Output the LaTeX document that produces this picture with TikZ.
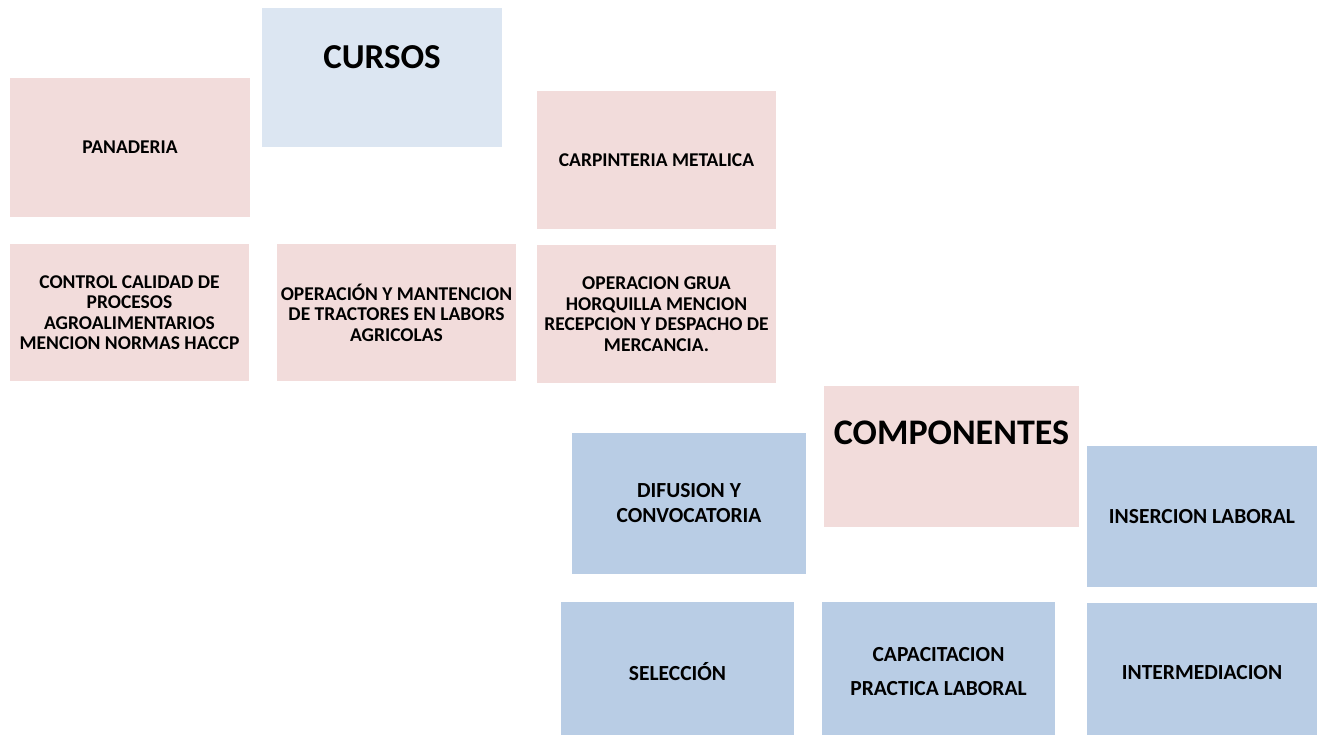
\documentclass[tikz,border=0pt]{standalone}
\usepackage{fontspec}
\setmainfont{Carlito}
\definecolor{pinkf}{HTML}{F2DCDB}
\definecolor{lblue}{HTML}{DCE6F2}
\definecolor{mblue}{HTML}{B9CDE5}
\begin{document}
\begin{tikzpicture}[x=1pt,y=-1pt,
  box/.style={rectangle, inner sep=0pt, draw=none, align=center, font=\bfseries\fontsize{19.5}{20.5}\selectfont, text=black},
  pinkbox/.style={box, fill=pinkf},
  lbluebox/.style={box, fill=lblue},
  bluebox/.style={box, fill=mblue, font=\bfseries\fontsize{21.5}{25}\selectfont},
  big/.style={inner sep=0pt, font=\bfseries\fontsize{35}{40}\selectfont, text=black},
  sz/.style 2 args={minimum width=#1pt, minimum height=#2pt}]
\useasboundingbox (0,0) rectangle (1317,735);
\fill[white] (0,0) rectangle (1317,735);
% CURSOS group
\node[lbluebox, sz={240}{139}] (cursos) at (382,77.5) {};
\node[big] (cursosT) at (382,57) {CURSOS};
\node[pinkbox, sz={240}{139}] (pan) at (130,147.5) {PANADERIA};
\node[pinkbox, sz={239}{138}] (carp) at (656.5,160) {CARPINTERIA METALICA};
\node[pinkbox, sz={239}{137}] (ctrl) at (129.5,312.5) {CONTROL CALIDAD DE\\PROCESOS\\AGROALIMENTARIOS\\MENCION NORMAS HACCP};
\node[pinkbox, sz={239}{137}] (oper) at (396.5,312.5) {OPERACIÓN Y MANTENCION\\DE TRACTORES EN LABORS\\AGRICOLAS};
\node[pinkbox, sz={239}{138}] (grua) at (656.5,314) {OPERACION GRUA\\HORQUILLA MENCION\\RECEPCION Y DESPACHO DE\\MERCANCIA.};
% COMPONENTES group
\node[pinkbox, sz={255}{141}] (comp) at (951.5,456.5) {};
\node[big, font=\bfseries\fontsize{36}{40}\selectfont] (compT) at (951.5,433) {COMPONENTES};
\node[bluebox, sz={234}{141}] (dif) at (689,503.5) {DIFUSION Y\\CONVOCATORIA};
\node[bluebox, sz={230}{141}] (ins) at (1202,516.5) {INSERCION LABORAL};
\node[bluebox, sz={233}{140}] (sel) at (677.5,672) {SELECCIÓN};
\node[bluebox, sz={233}{140}, font=\bfseries\fontsize{21.5}{34}\selectfont] (cap) at (938.5,672) {CAPACITACION\\PRACTICA LABORAL};
\node[bluebox, sz={230}{140}] (inter) at (1202,673) {INTERMEDIACION};
\end{tikzpicture}
\end{document}
